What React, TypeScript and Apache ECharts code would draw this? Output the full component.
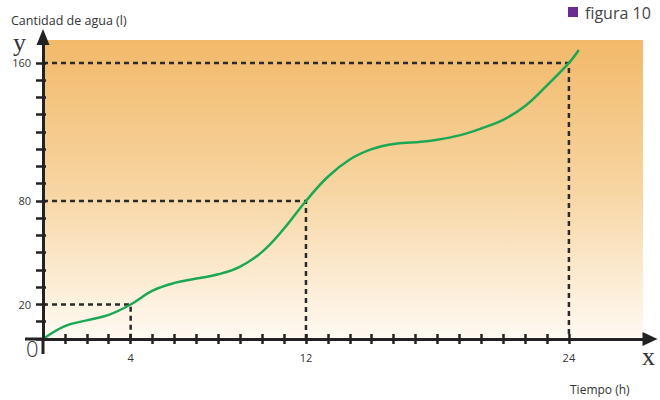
import React, { useEffect, useRef } from "react";
import * as echarts from "echarts";

const hours = [0, 1, 2, 3, 4, 5, 6, 7, 8, 9, 10, 11, 12, 13, 14, 15, 16, 17, 18, 19, 20, 21, 22, 23, 24, 24.45];
const water = [0, 7.5, 10.8, 14, 20, 28, 32.5, 35, 37.5, 42, 50.5, 64, 80, 94, 104, 110, 113, 114, 115.5, 118, 122, 127, 135, 147, 160, 167.5];
const guides = [
  [4, 20],
  [12, 80],
  [24, 160],
];
const xTickValues = [1, 2, 3, 4, 5, 6, 7, 8, 9, 10, 11, 12, 13, 14, 15, 16, 17, 18, 19, 20, 21, 22, 23, 24];
const xLabelValues = [4, 12, 24];
const yTickValues = [0, 10, 20, 30, 40, 50, 60, 70, 80, 90, 100, 110, 120, 130, 140, 150, 160];
const yLabelValues = [20, 80, 160];
const xMax = 27.7;
const yMax = 175;
const bgXMax = 27.38;
const bgYMax = 173.3;

const FONT = "'Open Sans', 'Noto Sans', sans-serif";
const AXIS = "#222";

export default function App() {
  const ref = useRef<HTMLDivElement>(null);
  useEffect(() => {
    document.body.style.margin = "0";
    if (!ref.current) return;
    const chart = echarts.init(ref.current, undefined, { renderer: "svg" });
    const guideSeries = guides.map(([gx, gy]) => ({
      type: "line",
      data: [
        [0, gy],
        [gx, gy],
        [gx, 0],
      ],
      symbol: "none",
      z: 3,
      lineStyle: { color: "#2a2a2a", width: 2.5, type: [5, 4] },
    }));
    chart.setOption({
      animation: false,
      grid: { left: 43, right: 10, top: 37, bottom: 61 },
      xAxis: [
        {
          type: "value",
          min: 0,
          max: xMax,
          z: 5,
          splitLine: { show: false },
          axisLine: {
            show: true,
            lineStyle: { color: AXIS, width: 3 },
            symbol: ["none", "triangle"],
            symbolSize: [14, 15],
          },
          axisTick: { show: true, customValues: xTickValues, length: 5, lineStyle: { color: AXIS, width: 2.5 } },
          axisLabel: { customValues: xLabelValues, margin: 13, color: "#333", fontSize: 11, fontFamily: FONT },
        },
        {
          type: "value",
          min: 0,
          max: xMax,
          position: "bottom",
          z: 5,
          splitLine: { show: false },
          axisLine: { show: false },
          axisTick: { show: true, inside: true, customValues: xTickValues, length: 5, lineStyle: { color: AXIS, width: 2.5 } },
          axisLabel: { show: false },
        },
      ],
      yAxis: [
        {
          type: "value",
          min: 0,
          max: yMax,
          z: 5,
          splitLine: { show: false },
          axisLine: {
            show: true,
            lineStyle: { color: AXIS, width: 3 },
            symbol: ["none", "triangle"],
            symbolSize: [13, 16],
          },
          axisTick: { show: true, customValues: yTickValues, length: 7, lineStyle: { color: AXIS, width: 2.5 } },
          axisLabel: { customValues: yLabelValues, margin: 12, color: "#333", fontSize: 11, fontFamily: FONT },
        },
        {
          type: "value",
          min: 0,
          max: yMax,
          position: "left",
          z: 5,
          splitLine: { show: false },
          axisLine: { show: false },
          axisTick: { show: true, inside: true, customValues: yTickValues, length: 3, lineStyle: { color: AXIS, width: 2.5 } },
          axisLabel: { show: false },
        },
      ],
      series: [
        {
          type: "line",
          data: [],
          z: 1,
          markArea: {
            silent: true,
            itemStyle: {
              color: new echarts.graphic.LinearGradient(0, 0, 0, 1, [
                { offset: 0, color: "#F2B969" },
                { offset: 0.5, color: "#F7D5A2" },
                { offset: 1, color: "#FFFAF3" },
              ]),
            },
            data: [[{ coord: [0, 0] }, { coord: [bgXMax, bgYMax] }]],
          },
        },
        ...guideSeries,
        {
          type: "line",
          data: hours.map((h, i) => [h, water[i]]),
          smooth: 0.4,
          symbol: "none",
          z: 4,
          lineStyle: { color: "#1BA854", width: 2.5 },
        },
      ],
    });
    const o = chart.convertToPixel({ xAxisIndex: 0, yAxisIndex: 0 }, [0, 0]) as number[];
    chart.setOption({
      graphic: [
        { type: "line", z: 10, shape: { x1: o[0] - 18, y1: o[1], x2: o[0], y2: o[1] }, style: { stroke: AXIS, lineWidth: 3 } },
        { type: "line", z: 10, shape: { x1: o[0], y1: o[1], x2: o[0], y2: o[1] + 15 }, style: { stroke: AXIS, lineWidth: 3 } },
        { type: "text", left: 11, top: 14, style: { text: "Cantidad de agua (l)", fill: "#333", font: `12.5px ${FONT}` } },
        { type: "text", x: 13, y: 42, style: { text: "y", fill: "#333", font: `26px 'Liberation Serif', serif`, verticalAlign: "middle", lineHeight: 20 } },
        { type: "text", left: 642, top: 343, style: { text: "x", fill: "#333", font: `26px 'Liberation Serif', serif` } },
        { type: "text", left: 26, top: 337, style: { text: "0", fill: "#333", font: `300 22px ${FONT}` } },
        { type: "text", left: 570, top: 383, style: { text: "Tiempo (h)", fill: "#333", font: `12px ${FONT}` } },
        { type: "rect", shape: { x: 568, y: 7, width: 10, height: 10 }, style: { fill: "#6A2C91" } },
        { type: "text", left: 585, top: 4, style: { text: "figura 10", fill: "#444", font: `16px ${FONT}`, lineHeight: 18 } },
      ],
    });
    return () => chart.dispose();
  }, []);
  return <div ref={ref} style={{ width: 660, height: 400 }} />;
}
